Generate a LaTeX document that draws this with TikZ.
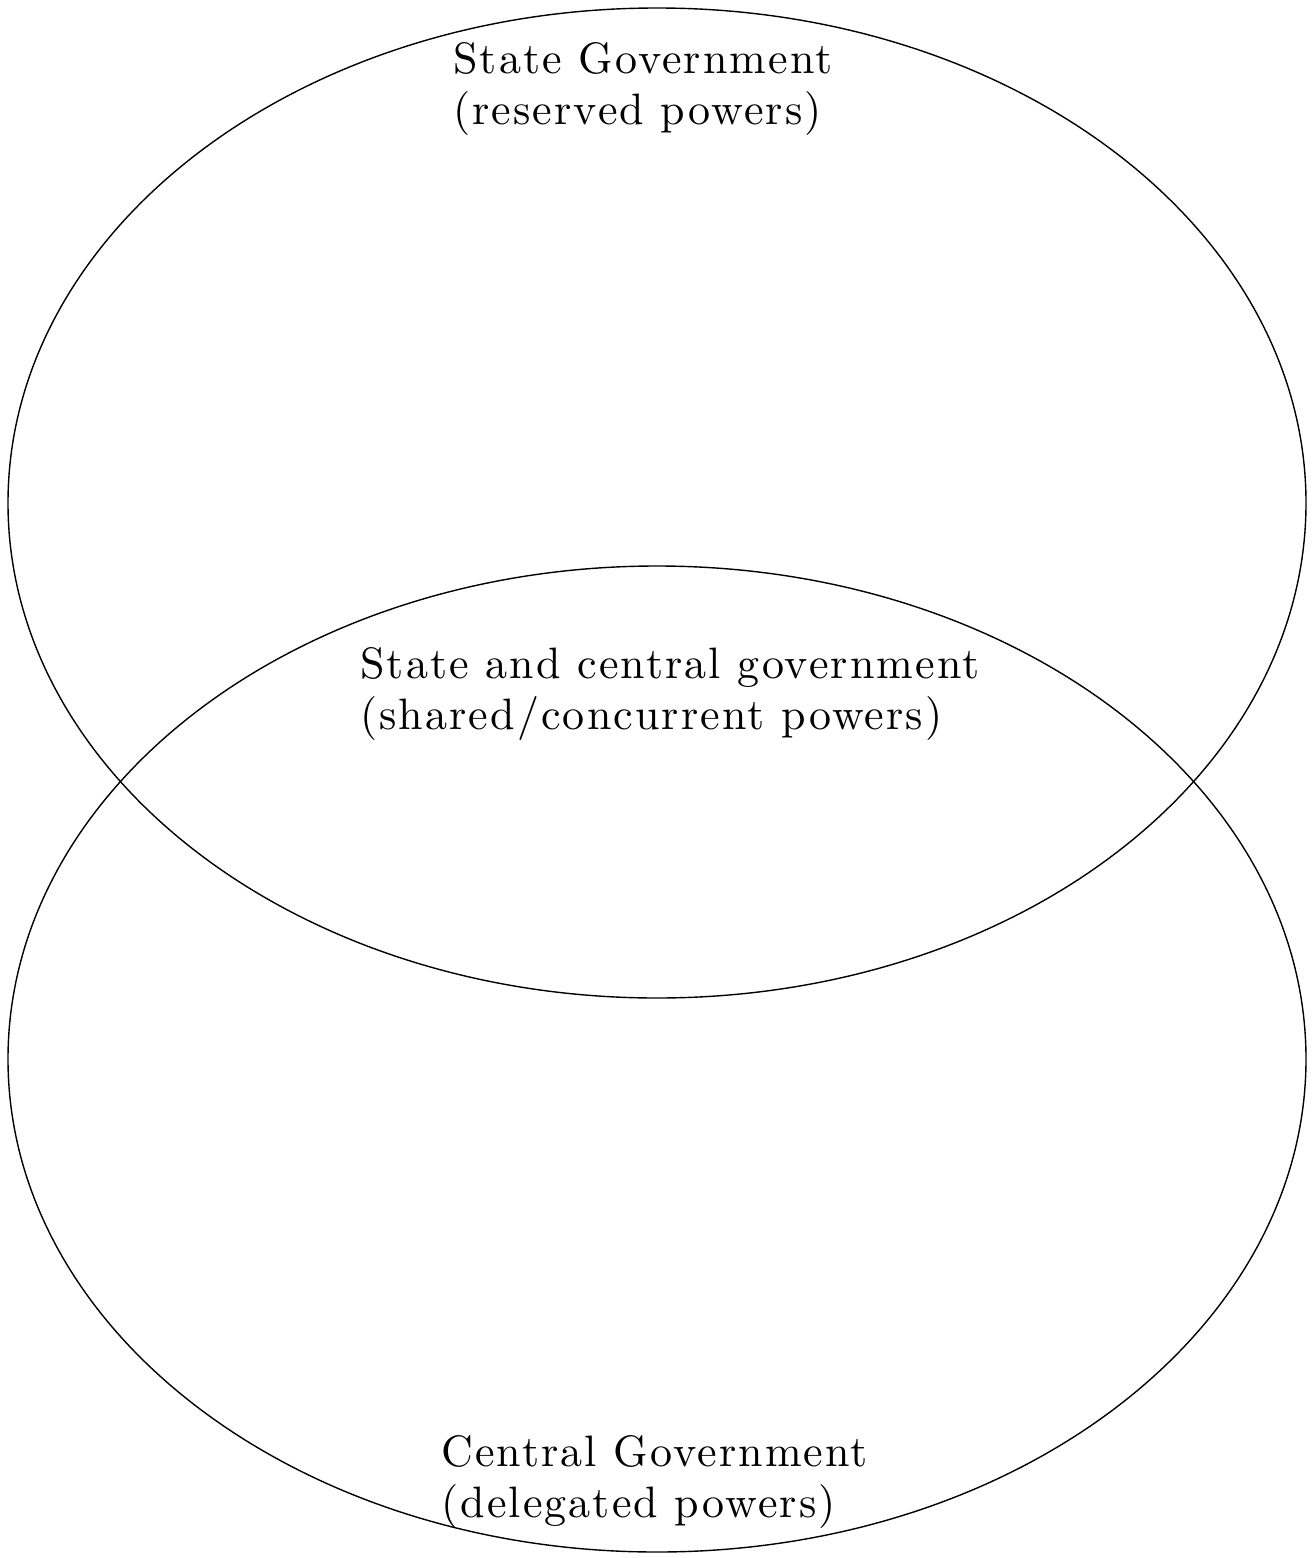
\documentclass[tikz,border=0pt]{standalone}
\usepackage{fontspec}
\newfontfamily\lblfont{lmroman10-regular.otf}[LetterSpace=4.8]
\begin{document}
\begin{tikzpicture}[x=1pt,y=-1pt,
  ring/.style={draw=black,line width=1.4pt},
  lbl/.style={anchor=base west,align=left,inner sep=0pt,
    font=\lblfont\fontsize{44}{51}\selectfont}]
\useasboundingbox (0,0) rectangle (1312,1558);
\draw[ring] (657,503) ellipse [x radius=649,y radius=495];
\draw[ring] (657,1059) ellipse [x radius=649,y radius=493];
\node[lbl] (state) at (453,124) {State Government\\(reserved powers)};
\node[lbl] (shared) at (360,729) {State and central government\\(shared/concurrent powers)};
\node[lbl] (central) at (441,1517) {Central Government\\(delegated powers)};
\end{tikzpicture}
\end{document}
